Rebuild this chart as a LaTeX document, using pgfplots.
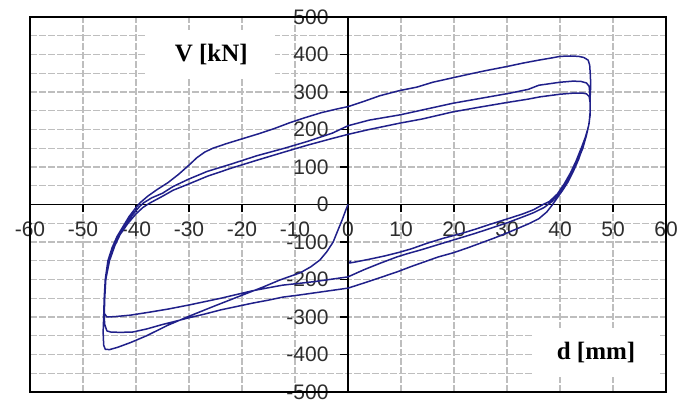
\documentclass[border=0pt]{standalone}
\usepackage{fontspec}
\setmainfont{Liberation Sans}
\newfontfamily\timesf{Liberation Serif}
\usepackage{pgfplots}
\pgfplotsset{compat=1.18}
\definecolor{curve}{RGB}{32,32,138}
\definecolor{gridc}{RGB}{190,190,190}
\definecolor{lbl}{RGB}{45,45,45}
\begin{document}
\begin{tikzpicture}
\begin{axis}[
  name=ax, at={(0,0)}, anchor=south west,
  scale only axis, width=636pt, height=375pt,
  xmin=-60, xmax=60, ymin=-500, ymax=500,
  enlargelimits=false,
  axis lines*=middle,
  axis line style={line width=1.6pt, black},
  xtick={-60,-50,...,60}, ytick={-500,-400,...,500},
  minor ytick={-450,-350,...,450},
  xmajorgrids=true, ymajorgrids=true, yminorgrids=true,
  grid style={gridc, line width=1.4pt, dash pattern=on 7pt off 2pt},
  major grid style={gridc, line width=1.4pt, dash pattern=on 7pt off 2pt},
  minor grid style={gridc, line width=1.4pt, dash pattern=on 7pt off 2pt},
  tick align=outside, major tick length=8pt, minor tick length=0pt,
  tick style={black, line width=1.4pt},
  hide obscured x ticks=false, hide obscured y ticks=false,
  ticklabel style={font=\fontsize{21}{24}\selectfont, text=lbl},
  xticklabel style={yshift=-6pt},
  yticklabel style={xshift=-8pt},
  /pgf/number format/assume math mode=true,
]
\addplot[curve, line width=1.5pt, line join=round] coordinates {
(0,0) (-0.5,-18) (-1.1,-41) (-2,-72) (-2.8,-100) (-4,-126) (-5.3,-148) (-7,-166) (-9,-182) (-12.8,-201) (-16,-220) (-20,-242) (-24.7,-268) (-30,-298) (-34,-322) (-38,-350) (-41,-368) (-43.5,-381) (-45,-387) (-45.8,-386)
(-46.1,-375) (-46.2,-340) (-46.1,-300) (-46,-250) (-45.8,-200) (-45.3,-150) (-44.5,-115) (-43.6,-86) (-42.5,-60) (-41.3,-32) (-40,-8) (-39.2,5) (-37.8,22) (-36,40) (-34,58) (-32,80) (-30,105) (-28.5,125) (-27,140) (-25.5,150) (-23,162) (-20,175) (-17,188) (-14,202) (-11,218) (-8,232) (-5,245) (-2,255) (0,261) (3,275) (6,290) (9.8,304) (13,313) (16,326) (19.8,338) (23,348) (26,357) (30,368) (33,377) (36,385) (38.5,391) (40,395) (42,396) (43.5,395) (44.5,392) (45.3,385) (45.6,372) (45.7,350)
(45.8,320) (45.7,290) (45.7,250) (45.5,217) (45,185) (44.3,153) (43.5,120) (42.5,88) (41.5,60) (40.5,38) (39.5,18) (38.5,-2) (37.5,-20) (36,-38) (34,-52) (32,-64) (30,-76) (27.5,-90) (25,-103) (22.5,-116) (19.8,-129) (17,-140) (15,-150) (12,-165) (9.2,-180) (5,-200) (2,-214) (0,-223) (-3,-229) (-6,-235) (-9,-241) (-12.3,-247) (-15,-255) (-18,-263) (-21,-272) (-24,-281) (-27,-292) (-30,-302) (-33,-313) (-35,-320) (-38,-332) (-40.6,-340) (-43,-341) (-44.8,-340) (-45.5,-337)
(-45.9,-320) (-46,-300) (-45.9,-250) (-45.7,-200) (-45.2,-150) (-44.3,-110) (-43.3,-80) (-42,-52) (-40.5,-25) (-39.3,-5) (-38.5,5) (-37,18) (-35,30) (-33,48) (-30,68) (-26.6,88) (-22,108) (-17.2,130) (-12,150) (-7.7,168) (-3,190) (0,210) (4,225) (9.8,239) (14,252) (19.8,270) (25,283) (30.6,297) (34,307) (36,318) (40,326) (42.5,329) (44,328) (45,324) (45.5,315) (45.6,300)
(45.7,280) (45.7,250) (45.5,217) (45,185) (44.3,150) (43.3,115) (42.3,85) (41,55) (39.8,30) (38.5,8) (37,-8) (35,-22) (33,-33) (30,-49) (27,-63) (24,-77) (19.8,-95) (17,-107) (14,-120) (11,-132) (9.2,-140) (6,-157) (3,-174) (0,-193) (-3,-199) (-6,-205) (-9,-210) (-12.3,-215) (-15,-222) (-18,-230) (-21,-240) (-24,-250) (-27,-259) (-30,-268) (-34,-279) (-37.4,-287) (-41,-295) (-44,-299) (-45.5,-300)
(-46,-290) (-46,-250) (-45.7,-200) (-45,-150) (-44,-110) (-43,-80) (-41.5,-50) (-40,-25) (-38.7,-8) (-37.5,3) (-35,22) (-33,38) (-30,55) (-26.6,75) (-22,97) (-17.2,118) (-12,140) (-7.7,158) (-3,176) (0,187) (4,200) (9.8,217) (14,228) (19.8,247) (25,260) (30,272) (34,281) (36.2,287) (40,294) (42.5,297) (44.3,297) (45,295) (45.5,288)
(45.7,270) (45.7,240) (45.4,210) (44.8,180) (44,150) (43,115) (42,85) (40.8,55) (39.5,28) (38,8) (36.8,0) (35,-14) (33,-25) (30.6,-36) (27,-52) (24,-66) (21.7,-76) (18,-90) (15,-103) (12,-118) (9.8,-127) (7,-137) (4,-146) (1.5,-153) (0.3,-156) (0.5,-150)
};
\node[fill=white, inner sep=0pt, minimum width=128pt, minimum height=48pt, font=\timesf\bfseries\fontsize{25}{28}\selectfont] at (axis cs:-25.8,401) {V [kN]};
\node[fill=white, inner sep=0pt, minimum width=128pt, minimum height=49pt, font=\timesf\bfseries\fontsize{25}{28}\selectfont] at (axis cs:46.8,-395) {d [mm]};
\end{axis}
\draw[black, line width=1.8pt] (ax.south west) rectangle (ax.north east);
\pgfresetboundingbox
\path (-30pt,-14pt) rectangle (662pt,392pt);
\end{tikzpicture}
\end{document}
